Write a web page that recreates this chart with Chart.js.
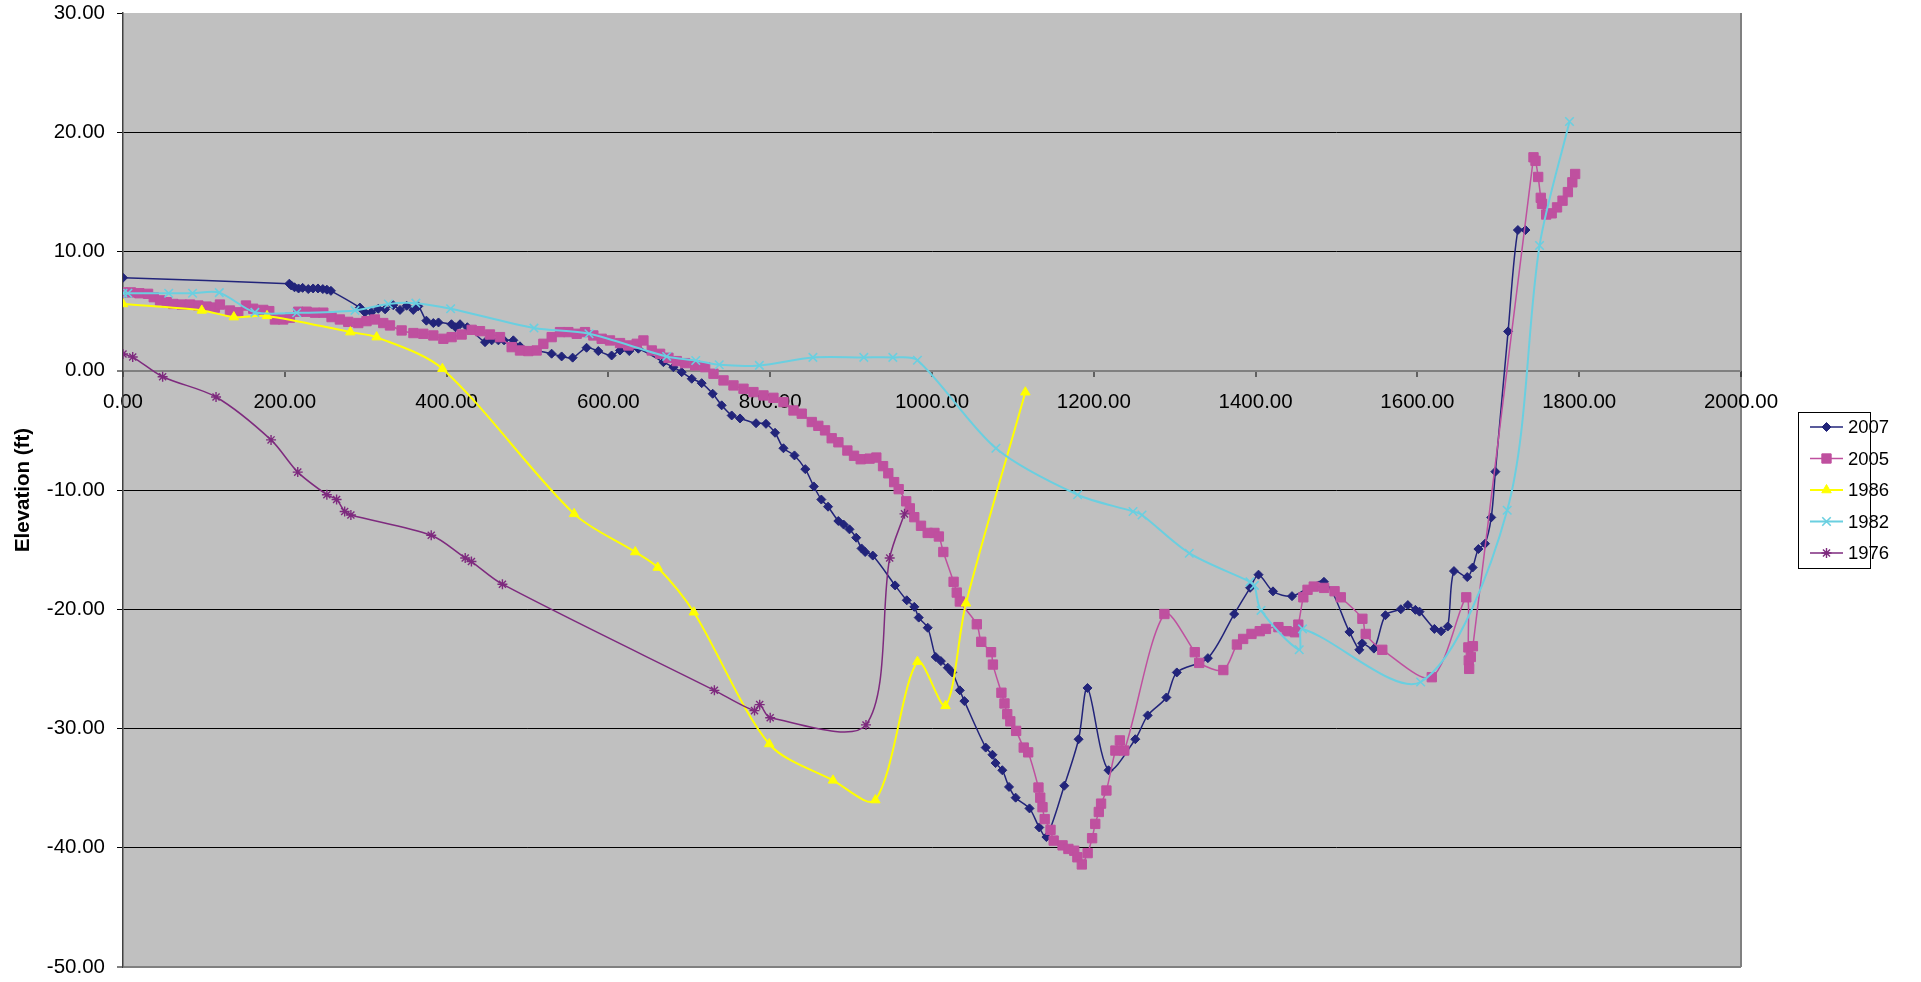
<!DOCTYPE html>
<html>
<head>
<meta charset="utf-8">
<title>Cross section elevation</title>
<script src="https://cdn.jsdelivr.net/npm/chart.js@4.4.1/dist/chart.umd.min.js"></script>
<style>
  html, body { margin: 0; padding: 0; background: #fff; }
</style>
</head>
<body>
<canvas id="chart" width="1921" height="982"></canvas>
<script>
// station along section (ft) and elevation (ft), one pair of arrays per survey
const x2007 = [0, 205.6, 208, 212, 217, 222, 229, 235, 241, 247, 252, 257, 292.8, 299, 307, 315.6, 324, 334, 342.4, 350.6, 358.8, 365, 375, 383.6, 390, 406, 411, 416.6, 425.6, 447.5, 455.7, 464, 471, 482.5, 490.7, 511, 529.8, 542.2, 555.8, 573, 587.5, 604, 614.3, 625.8, 637, 668, 680.3, 690.6, 703, 715.3, 728.9, 740, 752.4, 762.7, 782.5, 794.8, 806, 816.4, 830, 843.4, 853.9, 863.2, 871.5, 884.2, 890.8, 898, 906.3, 912.9, 917.4, 926.8, 954.4, 968.8, 978.1, 983.6, 994.7, 1004.6, 1011, 1019.5, 1025, 1034.4, 1040, 1066.4, 1074.7, 1078.6, 1086.9, 1095.2, 1103.4, 1120.5, 1132.6, 1141.4, 1163.5, 1181.2, 1192.2, 1218.2, 1251.3, 1266.6, 1289.7, 1302.6, 1341, 1373.5, 1393.2, 1403.6, 1421.5, 1445, 1484.5, 1516, 1528.2, 1531.7, 1546.2, 1560.5, 1579.5, 1588.2, 1597.5, 1602.6, 1621, 1629.3, 1637.5, 1645.2, 1661.6, 1668.3, 1675.4, 1683.6, 1691.3, 1696.4, 1712.1, 1724.2, 1733.6];
const y2007 = [7.8, 7.3, 7.15, 7.0, 6.9, 6.95, 6.85, 6.9, 6.9, 6.85, 6.8, 6.7, 5.3, 4.9, 4.9, 5.2, 5.15, 5.5, 5.1, 5.45, 5.1, 5.4, 4.2, 4.0, 4.05, 3.9, 3.65, 3.9, 3.65, 2.4, 2.55, 2.55, 2.55, 2.55, 2.05, 1.7, 1.43, 1.2, 1.1, 1.93, 1.65, 1.28, 1.7, 1.65, 1.85, 0.72, 0.3, -0.12, -0.67, -1.04, -1.93, -2.9, -3.75, -4.0, -4.4, -4.45, -5.2, -6.5, -7.1, -8.25, -9.7, -10.8, -11.4, -12.6, -12.9, -13.3, -14.0, -14.9, -15.2, -15.5, -18.0, -19.25, -19.8, -20.7, -21.55, -24.0, -24.35, -24.9, -25.3, -26.8, -27.7, -31.6, -32.2, -32.9, -33.5, -34.9, -35.8, -36.7, -38.3, -39.1, -34.8, -30.9, -26.6, -33.5, -30.9, -28.9, -27.4, -25.3, -24.1, -20.4, -18.2, -17.1, -18.5, -18.9, -17.7, -21.9, -23.4, -22.85, -23.3, -20.5, -20.0, -19.65, -20.05, -20.2, -21.65, -21.85, -21.45, -16.8, -17.3, -16.5, -14.95, -14.5, -12.3, -8.46, 3.3, 11.8, 11.8];

const x2005 = [0, 9.8, 20.2, 31, 38, 45.8, 54, 62.2, 72.6, 82.9, 93.1, 103.4, 113.6, 119.8, 132.2, 142.5, 152, 161, 173.4, 180.8, 187.8, 198, 206.3, 216.6, 227, 237.3, 247.6, 257.8, 268.1, 278.4, 290.8, 301, 311.4, 321.7, 330, 344.4, 359, 371.2, 383.6, 396, 406.2, 418.6, 431, 441.3, 453.6, 466, 480.4, 490.7, 501, 511.3, 519.6, 529.9, 540.2, 550.5, 560.8, 571.1, 581.4, 591.7, 602, 614.4, 624.7, 635, 643.3, 653.6, 663.9, 674.2, 684.5, 694.8, 707.2, 719.6, 729.9, 742.3, 754.6, 767, 779.3, 791.7, 804, 816.4, 828.8, 839, 851.4, 859.5, 867.8, 876, 884.3, 895.4, 903.6, 911.9, 922.9, 931.2, 939.5, 946, 953.2, 958.8, 968.1, 972.6, 978.1, 986.4, 994.7, 1003, 1008.5, 1014, 1026.7, 1030.6, 1034.4, 1055.4, 1060.9, 1073, 1075.3, 1085.8, 1089.6, 1093, 1096.8, 1104, 1113.4, 1118.9, 1131.6, 1133.8, 1136.6, 1139.3, 1146.5, 1150.4, 1161.4, 1168.6, 1175.8, 1179.7, 1185.2, 1192.4, 1197.9, 1201.8, 1206.2, 1209, 1215.6, 1226.7, 1232.2, 1237.7, 1287.3, 1324.8, 1330.3, 1360.1, 1376.9, 1384.6, 1394.9, 1405.1, 1412.8, 1428.2, 1438.5, 1448.7, 1452.8, 1459, 1464.2, 1471.9, 1484.7, 1497.6, 1505.3, 1532, 1536.1, 1556.6, 1617.8, 1660.4, 1663, 1663.5, 1664, 1666, 1668.6, 1743.5, 1746, 1749.3, 1752.5, 1754, 1759.2, 1766, 1772.6, 1779.4, 1786, 1791.5, 1795];
const y2005 = [6.57, 6.57, 6.5, 6.45, 6.17, 5.9, 5.75, 5.6, 5.55, 5.55, 5.47, 5.38, 5.3, 5.55, 5.05, 4.9, 5.47, 5.2, 5.1, 5.0, 4.3, 4.3, 4.45, 4.95, 4.95, 4.87, 4.87, 4.5, 4.3, 4.1, 4.0, 4.16, 4.3, 4.0, 3.8, 3.38, 3.16, 3.1, 2.96, 2.68, 2.82, 3.04, 3.43, 3.32, 3.04, 2.82, 1.98, 1.7, 1.65, 1.7, 2.26, 2.82, 3.24, 3.24, 3.1, 3.24, 2.96, 2.68, 2.54, 2.32, 2.12, 2.26, 2.54, 1.7, 1.42, 1.09, 0.81, 0.64, 0.45, 0.3, -0.25, -0.81, -1.23, -1.51, -1.79, -2.07, -2.27, -2.63, -3.33, -3.6, -4.3, -4.62, -5.0, -5.66, -6.0, -6.69, -7.13, -7.42, -7.37, -7.28, -8.0, -8.6, -9.34, -9.93, -10.95, -11.54, -12.28, -13.0, -13.6, -13.6, -13.9, -15.2, -17.7, -18.6, -19.35, -21.26, -22.73, -23.6, -24.64, -27.0, -27.9, -28.8, -29.4, -30.2, -31.6, -32.0, -34.95, -35.8, -36.6, -37.6, -38.5, -39.4, -39.8, -40.1, -40.25, -40.8, -41.4, -40.45, -39.2, -38.0, -37.0, -36.3, -35.2, -31.85, -31.0, -31.85, -20.4, -23.6, -24.5, -25.1, -22.96, -22.49, -22.07, -21.84, -21.65, -21.5, -21.84, -21.93, -21.29, -19.0, -18.37, -18.1, -18.21, -18.49, -19.0, -20.8, -22.07, -23.4, -25.7, -19.0, -23.2, -24.3, -25.0, -24.0, -23.1, 17.9, 17.6, 16.25, 14.5, 14.0, 13.1, 13.2, 13.7, 14.26, 14.98, 15.8, 16.5];

const x1986 = [0, 97.4, 137, 178, 281, 313.5, 394.8, 557.6, 633.2, 661, 705.6, 798.8, 877.6, 930, 982, 1016.7, 1042, 1115.4];
const y1986 = [5.6, 5.06, 4.5, 4.6, 3.24, 2.82, 0.17, -12.0, -15.2, -16.5, -20.25, -31.3, -34.35, -36.0, -24.4, -28.1, -19.5, -1.8];

const x1982 = [0, 6, 56.5, 86, 119, 163, 214.7, 286.8, 328, 362, 405, 508, 576, 672, 708, 737, 786.6, 852.8, 915.7, 951.6, 982, 1079, 1180, 1248.5, 1259.6, 1318, 1393, 1398.5, 1406.7, 1453.9, 1458, 1604, 1711, 1751, 1788];
const y1982 = [6.5, 6.5, 6.5, 6.5, 6.55, 4.9, 4.86, 5.06, 5.6, 5.67, 5.2, 3.58, 3.1, 1.2, 0.86, 0.5, 0.45, 1.12, 1.12, 1.12, 0.88, -6.5, -10.4, -11.8, -12.1, -15.3, -17.7, -18.0, -20.1, -23.4, -21.65, -26.1, -11.7, 10.5, 20.9];

const x1976 = [0, 12, 49, 115, 183, 216, 252, 264, 274, 281.7, 381, 423, 430.7, 469, 731, 780.6, 787, 800, 918.4, 947.7, 966];
const y1976 = [1.4, 1.15, -0.5, -2.2, -5.8, -8.5, -10.4, -10.8, -11.8, -12.1, -13.8, -15.7, -16.0, -17.9, -26.8, -28.5, -28.0, -29.1, -29.7, -15.7, -12.0];

const seriesNames = ['2007', '2005', '1986', '1982', '1976'];
const xAxisRange = [0, 2000, 200];   // min, max, step
const yAxisRange = [-50, 30, 10];

const pairs = (xs, ys) => xs.map((x, i) => ({ x: x, y: ys[i] }));

const FONT = "'Liberation Sans', Arial, sans-serif";

// gray plot area like the old Excel default
const plotBackground = {
  id: 'plotBackground',
  beforeDraw(chart) {
    const { ctx, chartArea: a } = chart;
    ctx.save();
    ctx.fillStyle = '#fff';
    ctx.fillRect(0, 0, chart.width, chart.height);
    ctx.fillStyle = '#C0C0C0';
    ctx.fillRect(a.left, a.top, a.right - a.left, a.bottom - a.top);
    ctx.restore();
  }
};

// boxed legend with line + marker samples
const boxedLegend = {
  id: 'boxedLegend',
  afterDraw(chart) {
    const { ctx, chartArea: a } = chart;
    const left = a.right + 57, w = 72, h = 156;
    const top = Math.round((a.top + a.bottom) / 2 - h / 2);
    ctx.save();
    ctx.fillStyle = '#fff';
    ctx.fillRect(left, top, w, h);
    ctx.strokeStyle = '#000';
    ctx.lineWidth = 1;
    ctx.strokeRect(left + 0.5, top + 0.5, w, h);
    chart.data.datasets.forEach((ds, i) => {
      const y = top + 15 + i * 31.5;
      ctx.strokeStyle = ds.borderColor;
      ctx.lineWidth = ds.borderWidth;
      ctx.beginPath();
      ctx.moveTo(left + 12, y);
      ctx.lineTo(left + 45, y);
      ctx.stroke();
      ctx.fillStyle = ds.pointBackgroundColor;
      ctx.strokeStyle = ds.pointBorderColor;
      ctx.lineWidth = ds.pointBorderWidth;
      Chart.helpers.drawPoint(ctx, {
        pointStyle: ds.pointStyle, rotation: 0,
        radius: ds.pointRadius, borderWidth: ds.pointBorderWidth
      }, left + 28.5, y);
      ctx.fillStyle = '#000';
      ctx.font = '18.5px ' + FONT;
      ctx.textBaseline = 'middle';
      ctx.textAlign = 'left';
      ctx.fillText(ds.label, left + 50, y + 1);
    });
    ctx.restore();
  }
};

function series(i, xs, ys, color, style, radius, lineW, markW, order) {
  return {
    label: seriesNames[i],
    data: pairs(xs, ys),
    showLine: true,
    borderColor: color,
    borderWidth: lineW,
    backgroundColor: color,
    pointBackgroundColor: color,
    pointBorderColor: color,
    pointBorderWidth: markW,
    pointStyle: style,
    pointRadius: radius,
    tension: 0.3,
    order: order
  };
}

new Chart(document.getElementById('chart'), {
  type: 'scatter',
  data: {
    datasets: [
      series(0, x2007, y2007, '#22247A', 'rectRot', 4.5, 1.5, 1, 5),
      series(1, x2005, y2005, '#BF509F', 'rect', 6.6, 1.5, 1, 4),
      series(2, x1986, y1986, '#FFFF00', 'triangle', 5.5, 2, 1, 3),
      series(3, x1982, y1982, '#6ACFE0', 'crossRot', 6, 2, 1.6, 2),
      series(4, x1976, y1976, '#7E2A7E', 'star', 5, 1.5, 1.4, 1)
    ]
  },
  options: {
    responsive: false,
    animation: false,
    devicePixelRatio: 1,
    layout: { padding: { left: 0, top: 13, right: 180, bottom: 15 } },
    plugins: {
      legend: { display: false },
      tooltip: { enabled: false }
    },
    scales: {
      x: {
        type: 'linear',
        position: { y: 0 },
        min: xAxisRange[0],
        max: xAxisRange[1],
        ticks: {
          stepSize: xAxisRange[2],
          autoSkip: false,
          maxRotation: 0,
          padding: 13,
          color: '#000',
          font: { family: FONT, size: 20.5 },
          callback: v => Number(v).toFixed(2)
        },
        grid: {
          drawOnChartArea: true,
          color: c => (c.tick && c.tick.value === xAxisRange[1]) ? '#808080' : 'rgba(0,0,0,0)',
          lineWidth: 2,
          tickColor: '#000',
          tickWidth: 1,
          tickLength: 6
        },
        border: { display: false },
        afterFit: s => { s.height = 0; s.paddingLeft = 0; s.paddingRight = 0; }
      },
      y: {
        type: 'linear',
        position: 'left',
        min: yAxisRange[0],
        max: yAxisRange[1],
        ticks: {
          stepSize: yAxisRange[2],
          padding: 12,
          color: '#000',
          font: { family: FONT, size: 20.5 },
          callback: v => Number(v).toFixed(2)
        },
        grid: {
          color: c => {
            const v = c.tick ? c.tick.value : null;
            if (v === yAxisRange[1]) return 'rgba(0,0,0,0)';
            if (v === 0 || v === yAxisRange[0]) return '#808080';
            return '#000';
          },
          lineWidth: c => (c.tick && (c.tick.value === 0 || c.tick.value === yAxisRange[0])) ? 2 : 1,
          tickColor: '#000',
          tickWidth: 1,
          tickLength: 6
        },
        border: { color: '#404040', width: 1.5 },
        title: {
          display: true,
          text: 'Elevation (ft)',
          color: '#000',
          font: { family: FONT, size: 20.5, weight: 'bold' },
          padding: { top: 11, bottom: 0 }
        },
        afterFit: s => { s.width = 123; s.paddingTop = 0; s.paddingBottom = 0; }
      }
    }
  },
  plugins: [plotBackground, boxedLegend]
});
</script>
</body>
</html>
